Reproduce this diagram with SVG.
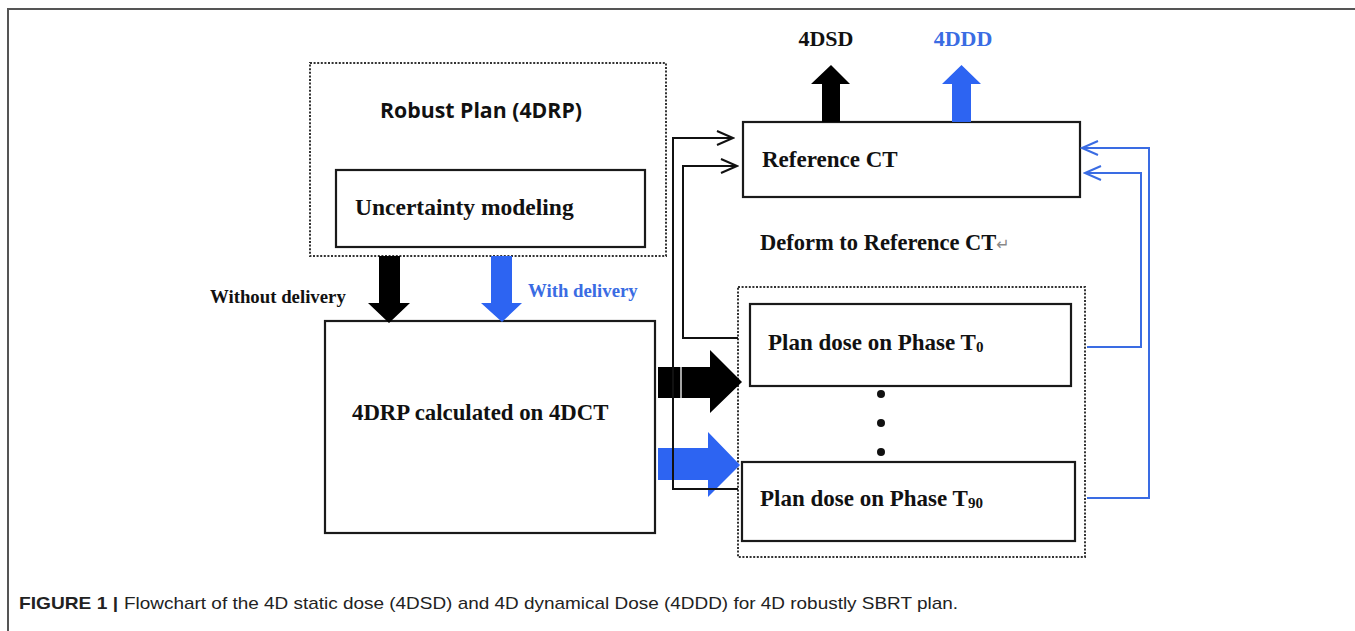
<svg xmlns="http://www.w3.org/2000/svg" width="1355" height="631" viewBox="0 0 1355 631">
<style>
.box{fill:#fff;stroke:#1a1a1a;stroke-width:2.2}
.dot{fill:none;stroke:#333;stroke-width:2;stroke-dasharray:2 1.6}
.t{font-family:"Liberation Serif","Times New Roman",serif;font-weight:bold;fill:#111}
.blue{fill:#3a6ce3}
.conk{fill:none;stroke:#111;stroke-width:2}
.conb{fill:none;stroke:#3a6ce3;stroke-width:2}
.cap{font-family:"Liberation Sans",Arial,sans-serif;font-size:17px;fill:#222}
</style>
<defs>
<marker id="ak" markerUnits="userSpaceOnUse" markerWidth="20" markerHeight="18" viewBox="0 0 20 18" refX="18" refY="9" orient="auto">
<path d="M2,2 L18,9 L2,16" fill="none" stroke="#111" stroke-width="2"/>
</marker>
<marker id="ab" markerUnits="userSpaceOnUse" markerWidth="20" markerHeight="18" viewBox="0 0 20 18" refX="18" refY="9" orient="auto">
<path d="M2,2 L18,9 L2,16" fill="none" stroke="#3a6ce3" stroke-width="2"/>
</marker>
</defs>
<rect width="1355" height="631" fill="#fff"/>
<path d="M8,631 V9 H1355" fill="none" stroke="#555" stroke-width="2"/>

<g id="robust-plan">
<rect class="dot" x="310" y="63" width="356" height="193"/>
<text x="481" y="118" text-anchor="middle" font-family="'Open Sans','Noto Sans',sans-serif" font-weight="bold" font-size="21.5" fill="#111" textLength="202" lengthAdjust="spacingAndGlyphs">Robust Plan (4DRP)</text>
</g>
<g id="uncertainty">
<rect class="box" x="336" y="170" width="309" height="77"/>
<text class="t" x="355" y="215" font-size="23.5">Uncertainty modeling</text>
</g>
<g id="calc4dct">
<rect class="box" x="325" y="321" width="330" height="212"/>
<text class="t" x="352" y="420" font-size="22.8">4DRP calculated on 4DCT</text>
</g>
<g id="refct">
<rect class="box" x="743" y="122" width="337" height="75"/>
<text class="t" x="762" y="167" font-size="23">Reference CT</text>
</g>
<g id="deform-label">
<text class="t" x="760" y="250" font-size="22.5">Deform to Reference CT<tspan font-weight="normal" fill="#888" font-size="16" font-family="'DejaVu Sans',sans-serif">↵</tspan></text>
</g>
<g id="phase-group">
<rect class="dot" x="738" y="287" width="347" height="270"/>
</g>
<g id="phase-t0">
<rect class="box" x="750" y="304" width="321" height="82"/>
<text class="t" x="768" y="350" font-size="23">Plan dose on Phase T<tspan font-size="15" dy="2">0</tspan></text>
</g>
<g id="dots">
<circle cx="881" cy="394" r="4" fill="#111"/>
<circle cx="881" cy="423" r="4" fill="#111"/>
<circle cx="881" cy="452" r="4" fill="#111"/>
</g>
<g id="phase-t90">
<rect class="box" x="742" y="462" width="333" height="79"/>
<text class="t" x="760" y="506" font-size="23">Plan dose on Phase T<tspan font-size="15" dy="2">90</tspan></text>
</g>
<g id="outputs">
<text class="t" x="826" y="46" font-size="22" text-anchor="middle">4DSD</text>
<text class="t blue" x="963" y="46" font-size="22" text-anchor="middle">4DDD</text>
</g>
<g id="labels">
<text class="t" x="210" y="303" font-size="18.8">Without delivery</text>
<text class="t blue" x="528" y="297" font-size="18.8">With delivery</text>
</g>

<g id="connectors">
<polygon points="379,256 400,256 400,303 410,303 389,323 368,303 379,303" fill="#000"/>
<polygon points="491,256 512,256 512,303 522,303 502,322 481,303 491,303" fill="#2d64f2"/>
<polygon points="822,122 840,122 840,84 850,84 831,65 811,84 822,84" fill="#000"/>
<polygon points="952,122 971,122 971,84 981,84 961.5,65 942,84 952,84" fill="#2d64f2"/>
<polygon points="658,367 710,367 710,350 742,382 710,413 710,398 658,398" fill="#000"/>
<line x1="681" y1="367" x2="681" y2="398" stroke="#ddd" stroke-width="1.5"/>
<polygon points="658,448 708,448 708,432 740,465 708,497 708,480 658,480" fill="#2d64f2"/>
<path class="conk" d="M738,489 H673 V138 H733" marker-end="url(#ak)"/>
<path class="conk" d="M738,338 H683 V166 H737" marker-end="url(#ak)"/>
<path class="conb" d="M1087,498 H1149 V148 H1082" marker-end="url(#ab)"/>
<path class="conb" d="M1087,347 H1141 V173 H1085" marker-end="url(#ab)"/>
</g>

<g id="caption">
<text class="cap" x="19" y="609" font-weight="bold" textLength="99" lengthAdjust="spacingAndGlyphs" fill="#111">FIGURE 1 |</text>
<text class="cap" x="124" y="609" textLength="834" lengthAdjust="spacingAndGlyphs">Flowchart of the 4D static dose (4DSD) and 4D dynamical Dose (4DDD) for 4D robustly SBRT plan.</text>
</g>
</svg>
